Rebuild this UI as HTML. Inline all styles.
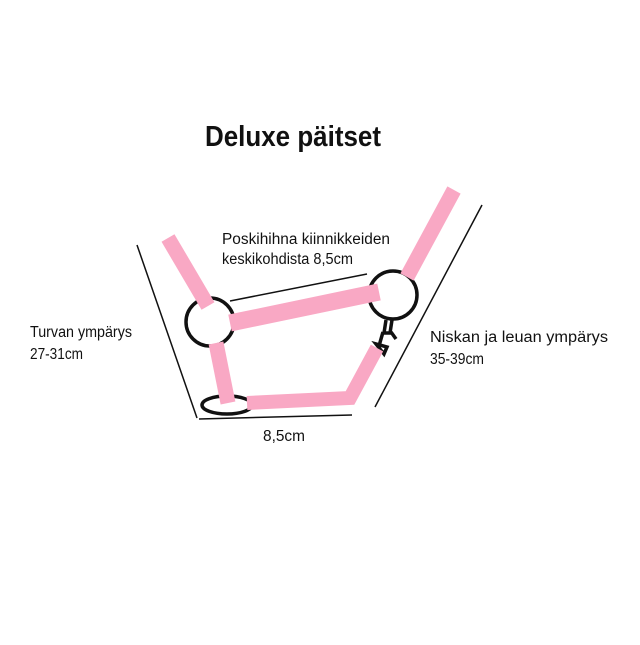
<!DOCTYPE html>
<html><head><meta charset="utf-8"><style>html,body{margin:0;padding:0;background:#fff}</style></head>
<body>
<svg width="640" height="640" viewBox="0 0 640 640" xmlns="http://www.w3.org/2000/svg" font-family="Liberation Sans, sans-serif" fill="#111">
<rect width="640" height="640" fill="#fff"/>
<text x="205" y="146" font-size="29" font-weight="bold" textLength="176" lengthAdjust="spacingAndGlyphs">Deluxe päitset</text>
<g stroke="#111" stroke-width="1.5">
<line x1="137" y1="245" x2="197" y2="418"/>
<line x1="199" y1="419" x2="352" y2="415"/>
<line x1="230" y1="301" x2="367" y2="274"/>
<line x1="482" y1="205" x2="375" y2="407"/>
</g>
<g fill="#fff" stroke="#111" stroke-width="3.5">
<circle cx="210" cy="322" r="24"/>
<circle cx="393" cy="295" r="24"/>
<ellipse cx="227" cy="405" rx="25" ry="9" fill="none"/>
</g>
<g fill="none" stroke="#111" stroke-width="3.5">
<path d="M386 320 L384 333 L390 333 L392 320"/>
<path d="M383 332 L379 346"/>
<path d="M391 332 L396 339"/>
<path d="M376 344 L387 347 L384 354 Z"/>
</g>
<g stroke="#f9a8c4" stroke-linecap="butt" fill="none">
<line x1="168" y1="238" x2="208" y2="306" stroke-width="15"/>
<line x1="454" y1="190" x2="407" y2="277" stroke-width="15"/>
<line x1="230" y1="323" x2="379" y2="292" stroke-width="17"/>
<line x1="216" y1="343" x2="228" y2="403" stroke-width="15"/>
<polyline points="247,403 350,398 377,348" stroke-width="14"/>
</g>
<g font-size="15.5">
<text x="222" y="244" textLength="168" lengthAdjust="spacingAndGlyphs">Poskihihna kiinnikkeiden</text>
<text x="222" y="264" textLength="131" lengthAdjust="spacingAndGlyphs">keskikohdista 8,5cm</text>
<text x="30" y="337" textLength="102" lengthAdjust="spacingAndGlyphs">Turvan ympärys</text>
<text x="30" y="359" textLength="53" lengthAdjust="spacingAndGlyphs">27-31cm</text>
<text x="430" y="342" textLength="178" lengthAdjust="spacingAndGlyphs">Niskan ja leuan ympärys</text>
<text x="430" y="364" textLength="54" lengthAdjust="spacingAndGlyphs">35-39cm</text>
<text x="263" y="441" textLength="42" lengthAdjust="spacingAndGlyphs">8,5cm</text>
</g>
</svg>
</body></html>
